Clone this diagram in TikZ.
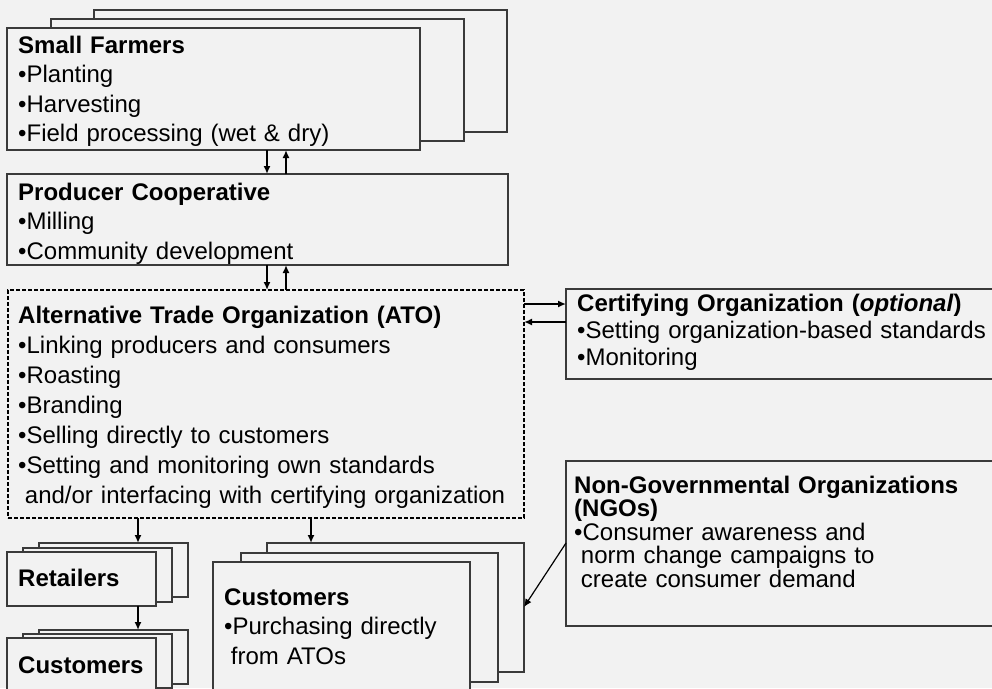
\documentclass[tikz,border=0pt]{standalone}
\usepackage{fontspec}
\setmainfont{Liberation Sans}
\usetikzlibrary{arrows.meta,positioning,calc}
\definecolor{Paper}{HTML}{F2F2F2}
\definecolor{EdgeGray}{HTML}{3A3A3A}
\tikzset{
  panel/.style={draw=EdgeGray, fill=Paper, line width=1.2pt, anchor=north west,
    inner sep=0pt, outer sep=0pt},
  farmpanel/.style={panel, minimum width=413pt, minimum height=122pt},
  smallpanel/.style={panel, minimum width=149pt, minimum height=54pt},
  buyerpanel/.style={panel, minimum width=257pt, minimum height=129pt},
  dashpanel/.style={panel, draw=black, line width=1.5pt, dash pattern=on 4pt off 2pt},
  boxtext/.style={anchor=base west, inner sep=0pt, align=left, text width=700pt,
    font=\fontsize{24}{29.5}\selectfont},
  arrow/.style={-{Latex[length=8pt,width=7pt]}, line width=1.6pt, black}
}
\begin{document}
\begin{tikzpicture}[x=1pt, y=-1pt]
  \fill[Paper, use as bounding box] (0,0) rectangle (992,688);
  \clip (0,0) rectangle (992,688);
  % small farmers (stacked)
  \node[farmpanel] (sf3) at (94,10) {};
  \node[farmpanel] (sf2) at (51,19) {};
  \node[farmpanel] (sf1) at (7,28) {};
  \node[boxtext] (sftext) at ([shift={(11pt,-25pt)}]sf1.north west)
    {\textbf{Small Farmers}\\•Planting\\•Harvesting\\•Field processing (wet \& dry)};
  % producer cooperative
  \node[panel, minimum width=501pt, minimum height=91pt] (pc) at (7,174) {};
  \node[boxtext] (pctext) at ([shift={(11pt,-26pt)}]pc.north west)
    {\textbf{Producer Cooperative}\\•Milling\\•Community development};
  % alternative trade organization
  \node[dashpanel, minimum width=516pt, minimum height=228pt] (ato) at (8,290) {};
  \node[boxtext, font=\fontsize{24}{30}\selectfont] (atotext) at ([shift={(10pt,-33pt)}]ato.north west)
    {\textbf{Alternative Trade Organization (ATO)}\\•Linking producers and consumers\\
     •Roasting\\•Branding\\•Selling directly to customers\\
     •Setting and monitoring own standards\\
     \hspace*{0.28em}and/or interfacing with certifying organization};
  % certifying organization
  \node[panel, minimum width=450pt, minimum height=90pt] (cert) at (566,289) {};
  \node[boxtext, font=\fontsize{24}{27}\selectfont] (certtext) at ([shift={(11pt,-22pt)}]cert.north west)
    {\textbf{Certifying Organization (\textit{optional})}\\
     •Setting organization-based standards\\•Monitoring};
  % non-governmental organizations
  \node[panel, minimum width=450pt, minimum height=165pt] (ngo) at (566,461) {};
  \node[boxtext, font=\fontsize{24}{23.5}\selectfont] (ngotext) at ([shift={(8pt,-32pt)}]ngo.north west)
    {\textbf{Non-Governmental Organizations}\\\textbf{(NGOs)}\\
     •Consumer awareness and\\\hspace*{0.28em}norm change campaigns to\\
     \hspace*{0.28em}create consumer demand};
  % retailers (stacked)
  \node[smallpanel] (ret3) at (39,543) {};
  \node[smallpanel] (ret2) at (23,548) {};
  \node[smallpanel] (ret1) at (7,552) {};
  \node[boxtext] (rettext) at ([shift={(11pt,-34pt)}]ret1.north west) {\textbf{Retailers}};
  % customers via retailers (stacked)
  \node[smallpanel] (cs3) at (39,630) {};
  \node[smallpanel] (cs2) at (23,634) {};
  \node[smallpanel] (cs1) at (7,638) {};
  \node[boxtext] (cstext) at ([shift={(11pt,-35pt)}]cs1.north west) {\textbf{Customers}};
  % customers buying from ATOs (stacked)
  \node[buyerpanel] (cb3) at (267,543) {};
  \node[buyerpanel] (cb2) at (241,553) {};
  \node[buyerpanel] (cb1) at (213,562) {};
  \node[boxtext] (cbtext) at ([shift={(11pt,-43pt)}]cb1.north west)
    {\textbf{Customers}\\•Purchasing directly\\\hspace*{0.28em}from ATOs};
  % flows
  \draw[arrow] ([xshift=260pt]sf1.south west) -- ([xshift=260pt]pc.north west);
  \draw[arrow] ([xshift=279pt]pc.north west) -- ([xshift=279pt]sf1.south west);
  \draw[arrow] ([xshift=260pt]pc.south west) -- ([xshift=259pt]ato.north west);
  \draw[arrow] ([xshift=278pt]ato.north west) -- ([xshift=279pt]pc.south west);
  \draw[arrow] ([yshift=-14pt]ato.north east) -- ([yshift=-15pt]cert.north west);
  \draw[arrow] ([yshift=-33pt]cert.north west) -- ([yshift=-32pt]ato.north east);
  \draw[arrow] ([xshift=130pt]ato.south west) -- ([xshift=99pt]ret3.north west);
  \draw[arrow] ([xshift=303pt]ato.south west) -- ([xshift=44pt]cb3.north west);
  \draw[arrow] ([xshift=131pt]ret1.south west) -- ([xshift=99pt]cs3.north west);
  \draw[arrow, line width=1.2pt] ([yshift=-82pt]ngo.north west) -- ([yshift=-64pt]cb3.north east);
\end{tikzpicture}
\end{document}
